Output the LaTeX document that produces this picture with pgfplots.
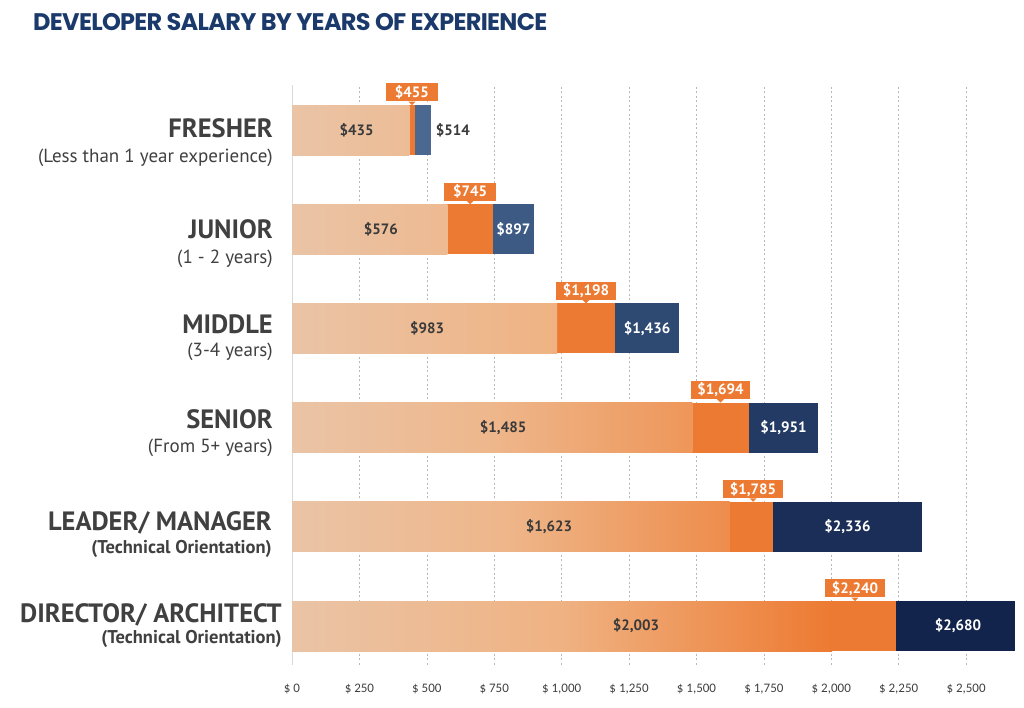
\documentclass[border=0pt]{standalone}
\usepackage{fontspec}
\usepackage{pgfplots}
\pgfplotsset{compat=1.18}
\setmainfont{PT Sans}
\newfontfamily\titlefont[LetterSpace=-3]{Poppins}
\newfontfamily\tickfont{Carlito}
\definecolor{peach}{HTML}{EAC4A6}
\definecolor{lightor}{HTML}{F0B07E}
\definecolor{orng}{HTML}{ED7A32}
\definecolor{bA}{HTML}{4A6890}
\definecolor{bB}{HTML}{3D5A84}
\definecolor{bC}{HTML}{2E4972}
\definecolor{bD}{HTML}{233A64}
\definecolor{bE}{HTML}{1A2E58}
\definecolor{bF}{HTML}{12244B}
\definecolor{txt}{HTML}{3A3A3A}
\definecolor{cat}{HTML}{404040}
\definecolor{titleblue}{HTML}{1B3A6B}
\newcommand{\lbl}{\bfseries\fontsize{15}{18}\selectfont}
\newcommand{\midlabel}[3]{%
  \node[fill=orng, text=white, font=\lbl, inner xsep=6.5pt, inner ysep=0pt, minimum height=18pt, minimum width=52pt, anchor=south] (m) at (axis cs:#1,#2) [yshift=28.5pt] {#3};
  \fill[orng] ([xshift=-3.5pt]m.south) -- ([xshift=3.5pt]m.south) -- ([yshift=-3.5pt]m.south) -- cycle;
}
\newcommand{\catlabel}[6]{% y, xshift, name, sub, yshift name, yshift sub
  \node[anchor=base east, inner sep=0, text=cat, font=\bfseries\fontsize{26.5}{30}\selectfont] at (axis cs:0,#1) [xshift=#2, yshift=#5] {#3};
  \node[anchor=base east, inner sep=0, text=cat, font=\fontsize{19}{22}\selectfont] at (axis cs:0,#1) [xshift=#2, yshift=#6] {#4};
}
\begin{document}
\begin{tikzpicture}
\useasboundingbox (0,0) rectangle (1024pt,708pt);
\node[anchor=base west, inner sep=0, text=titleblue, font=\titlefont\bfseries\fontsize{24}{28}\selectfont] at (33pt,677pt) {DEVELOPER SALARY BY YEARS OF EXPERIENCE};
\begin{axis}[
  at={(292pt,43pt)}, anchor=south west,
  scale only axis, width=728pt, height=580pt,
  xmin=0, xmax=2700, ymin=-0.393, ymax=5.454,
  axis line style={draw=none}, tick style={draw=none},
  ytick=\empty,
  xtick={250,500,...,2500},
  xticklabels={\$ 250,\$ 500,\$ 750,\$ 1{,}000,\$ 1{,}250,\$ 1{,}500,\$ 1{,}750,\$ 2{,}000,\$ 2{,}250,\$ 2{,}500},
  extra x ticks={0}, extra x tick labels={\$ 0},
  extra x tick style={grid style={solid, black!15, line width=1pt}},
  xmajorgrids,
  grid style={black!28, line width=0.6pt, dash pattern=on 2pt off 2.5pt},
  xticklabel style={font=\tickfont\fontsize{13}{15}\selectfont, text=cat, yshift=-16pt},
  clip=false,
]
% FRESHER (y=5)
\addplot[xbar, bar shift=0pt, bar width=50pt, fill=bA, draw=none] coordinates {(514,5)};
\addplot[xbar, bar shift=0pt, bar width=50pt, fill=orng, draw=none] coordinates {(455,5)};
\addplot[xbar, bar shift=0pt, bar width=50pt, draw=none, left color=peach, right color=lightor!39!peach, middle color=lightor!19!peach] coordinates {(435,5)};
% JUNIOR (y=4)
\addplot[xbar, bar shift=0pt, bar width=50pt, fill=bB, draw=none] coordinates {(897,4)};
\addplot[xbar, bar shift=0pt, bar width=50pt, fill=orng, draw=none] coordinates {(745,4)};
\addplot[xbar, bar shift=0pt, bar width=50pt, draw=none, left color=peach, right color=lightor!52!peach, middle color=lightor!26!peach] coordinates {(576,4)};
% MIDDLE (y=3)
\addplot[xbar, bar shift=0pt, bar width=50pt, fill=bC, draw=none] coordinates {(1436,3)};
\addplot[xbar, bar shift=0pt, bar width=50pt, fill=orng, draw=none] coordinates {(1198,3)};
\addplot[xbar, bar shift=0pt, bar width=50pt, draw=none, left color=peach, right color=lightor!88!peach, middle color=lightor!44!peach] coordinates {(983,3)};
% SENIOR (y=2)
\addplot[xbar, bar shift=0pt, bar width=50pt, fill=bD, draw=none] coordinates {(1951,2)};
\addplot[xbar, bar shift=0pt, bar width=50pt, fill=orng, draw=none] coordinates {(1694,2)};
\addplot[xbar, bar shift=0pt, bar width=50pt, draw=none, left color=peach, right color=orng!48!lightor, middle color=lightor!67!peach] coordinates {(1485,2)};
% LEADER (y=1)
\addplot[xbar, bar shift=0pt, bar width=50pt, fill=bE, draw=none] coordinates {(2336,1)};
\addplot[xbar, bar shift=0pt, bar width=50pt, fill=orng, draw=none] coordinates {(1785,1)};
\addplot[xbar, bar shift=0pt, bar width=50pt, draw=none, left color=peach, right color=orng!66!lightor, middle color=lightor!73!peach] coordinates {(1623,1)};
% DIRECTOR (y=0)
\addplot[xbar, bar shift=0pt, bar width=50pt, fill=bF, draw=none] coordinates {(2680,0)};
\addplot[xbar, bar shift=0pt, bar width=50pt, fill=orng, draw=none] coordinates {(2240,0)};
\addplot[xbar, bar shift=0pt, bar width=50pt, draw=none, left color=peach, right color=orng, middle color=lightor!90!peach] coordinates {(2003,0)};

% low labels
\node[font=\lbl, text=txt] at (axis cs:240,5) {\$435};
\node[font=\lbl, text=txt] at (axis cs:330,4) {\$576};
\node[font=\lbl, text=txt] at (axis cs:501,3) {\$983};
\node[font=\lbl, text=txt] at (axis cs:783,2) {\$1,485};
\node[font=\lbl, text=txt] at (axis cs:953,1) {\$1,623};
\node[font=\lbl, text=txt] at (axis cs:1276,0) {\$2,003};
% mid labels
\midlabel{445}{5}{\$455}
\midlabel{660.5}{4}{\$745}
\midlabel{1090.5}{3}{\$1,198}
\midlabel{1589.5}{2}{\$1,694}
\midlabel{1710}{1}{\$1,785}
\midlabel{2088}{0}{\$2,240}
% high labels
\node[font=\lbl, text=txt, anchor=west, inner sep=0] at (axis cs:514,5) [xshift=5pt] {\$514};
\node[font=\lbl, text=white] at (axis cs:821,4) {\$897};
\node[font=\lbl, text=white] at (axis cs:1317,3) {\$1,436};
\node[font=\lbl, text=white] at (axis cs:1822.5,2) {\$1,951};
\node[font=\lbl, text=white] at (axis cs:2060.5,1) {\$2,336};
\node[font=\lbl, text=white] at (axis cs:2470,0) {\$2,680};
% category labels
\catlabel{5}{-19pt}{FRESHER}{(Less than 1 year experience)}{-7pt}{-32pt}
\catlabel{4}{-19pt}{JUNIOR}{(1 - 2 years)}{-9pt}{-34pt}
\catlabel{3}{-19pt}{MIDDLE}{(3-4 years)}{-5pt}{-28pt}
\catlabel{2}{-19pt}{SENIOR}{(From 5+ years)}{-1pt}{-25pt}
\catlabel{1}{-20pt}{LEADER/ MANAGER}{\bfseries\fontsize{18.5}{21}\selectfont(Technical Orientation)}{-4pt}{-27pt}
\catlabel{0}{-10pt}{DIRECTOR/ ARCHITECT}{\bfseries\fontsize{18.5}{21}\selectfont(Technical Orientation)}{4pt}{-17pt}
\end{axis}
\end{tikzpicture}
\end{document}
